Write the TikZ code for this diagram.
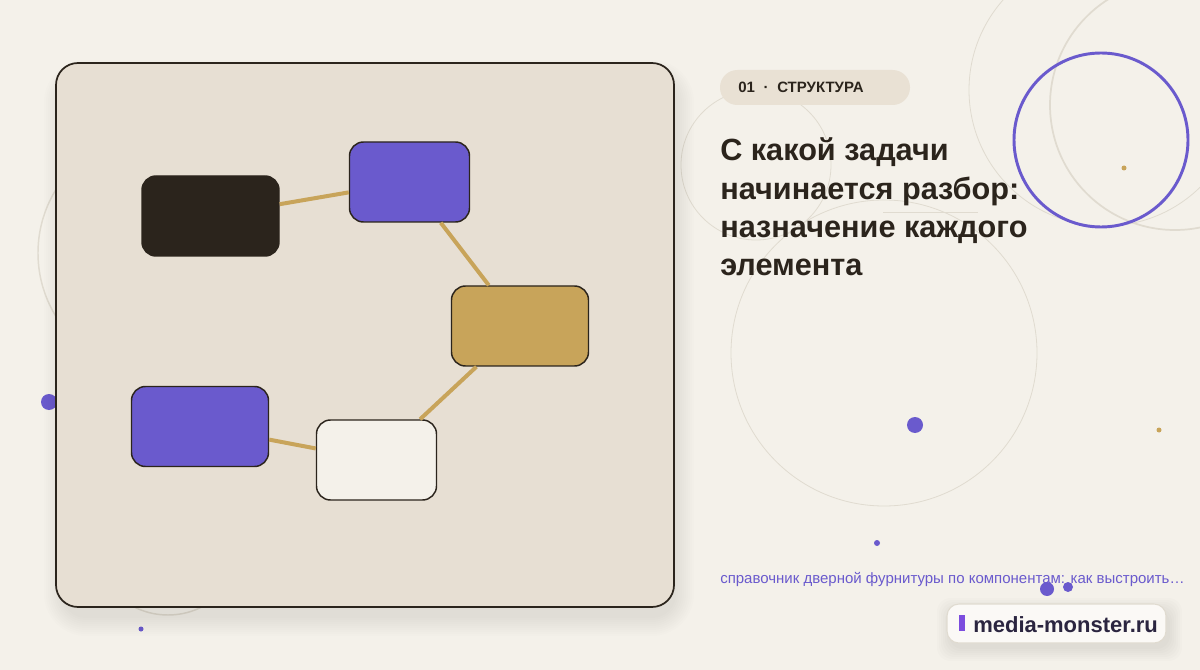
\documentclass[tikz,border=0pt]{standalone}
\usepackage{fontspec}
\setmainfont{Liberation Sans}
\usetikzlibrary{positioning}
\definecolor{mpaper}{RGB}{244,241,234}
\definecolor{mpanel}{RGB}{231,223,211}
\definecolor{mpill}{RGB}{233,225,212}
\definecolor{mdark}{RGB}{43,36,28}
\definecolor{mpurple}{RGB}{106,90,205}
\definecolor{mviolet}{RGB}{124,77,222}
\definecolor{mgold}{RGB}{200,164,90}
\definecolor{mring}{RGB}{224,219,208}
\definecolor{mnavy}{RGB}{43,37,64}
\definecolor{mcard}{RGB}{251,249,246}

\begin{document}
\begin{tikzpicture}[x=0.75pt, y=-0.75pt,
    ring/.style={draw=mring, line width=0.6pt},
    block/.style={draw=mdark, line width=1.1pt, rounded corners=10.5pt, inner sep=0pt, minimum height=60pt},
    link/.style={draw=mgold, line width=3pt},
    title/.style={anchor=base west, inner sep=0pt, text=mdark, font=\fontsize{23pt}{28.5pt}\selectfont\bfseries}]
  \fill[mpaper] (0,0) rectangle (1200,670);
  \useasboundingbox (0,0) rectangle (1200,670);

  % rings and dots behind everything
  \draw[ring, line width=1.1pt] (159,253) circle (121);
  \draw[ring, line width=1.1pt] (168,540) circle (75);
  \draw[ring] (884,353) circle (153);
  \draw[ring] (756,165) circle (75);
  \draw[ring] (1105,90) circle (136);
  \draw[ring, line width=1.3pt] (1175,105) circle (125);
  \draw[ring] (883,212) -- (978,212);
  \draw[mpurple, line width=2.2pt] (1101,140) circle (87);
  \fill[mgold] (1124,168) circle (2.5);
  \fill[mgold] (1159,430) circle (2.5);
  \fill[mpurple] (49,402) circle (8);
  \fill[mpurple] (915,425) circle (8);
  \fill[mpurple] (877,543) circle (3);
  \fill[mpurple] (1047,589) circle (7);
  \fill[mpurple] (1068,587) circle (5);
  \fill[mpurple] (141,629) circle (2.5);

  % panel with soft shadow
  \foreach \s in {0,2,...,18}
    \fill[black, opacity=0.009, rounded corners=18pt+0.75*\s pt] (62-\s,78-\s) rectangle (676+\s,618+\s);
  \draw[fill=mpanel, draw=mdark, line width=1.3pt, rounded corners=16.5pt] (56,63) rectangle (674,607);

  % blocks
  \node[block, fill=mdark, minimum width=102.75pt] (blk) at (210.5,216) {};
  \node[block, fill=mpurple, minimum width=90pt] (vio1) at (409.5,182) {};
  \node[block, fill=mgold, minimum width=102.75pt] (ochre) at (520,326) {};
  \node[block, fill=mpurple, minimum width=102.75pt] (vio2) at (200,426.5) {};
  \node[block, fill=mpaper, minimum width=90pt] (pale) at (376.5,460) {};

  \draw[link] (blk) -- (vio1);
  \draw[link] (vio1) -- (ochre);
  \draw[link] (ochre) -- (pale);
  \draw[link] (vio2) -- (pale);

  % heading
  \fill[mpill, rounded corners=13pt] (720,70) rectangle (910,105);
  \node[anchor=base west, inner sep=0pt, text=mdark, font=\fontsize{11.25pt}{13pt}\selectfont\bfseries] (tag) at (738,92.5) {01\hspace{6.5pt}·\hspace{6.5pt}СТРУКТУРА};

  \node[title] (head1) at (720,161) {С какой задачи};
  \node[title] (head2) at (720,199.5) {начинается разбор:};
  \node[title] (head3) at (720,237.5) {назначение каждого};
  \node[title] (head4) at (720,275.5) {элемента};

  \node[anchor=base west, inner sep=0pt, text=mpurple, font=\fontsize{11.25pt}{13pt}\selectfont] (sub) at (720,583) {справочник дверной фурнитуры по компонентам: как выстроить…};

  % logo card
  \foreach \s in {0,2,...,12}
    \fill[black, opacity=0.012, rounded corners=10pt] (949-\s,610-\s) rectangle (1170+\s,649+\s);
  \draw[fill=mcard, draw=mring, line width=0.8pt, rounded corners=9pt] (947,604) rectangle (1166,643);
  \fill[mviolet] (959,615) rectangle (965,631);
  \node[anchor=base west, inner sep=0pt, text=mnavy, font=\fontsize{16.5pt}{18pt}\selectfont\bfseries] (logo) at (973,632) {media-monster.ru};
\end{tikzpicture}
\end{document}
